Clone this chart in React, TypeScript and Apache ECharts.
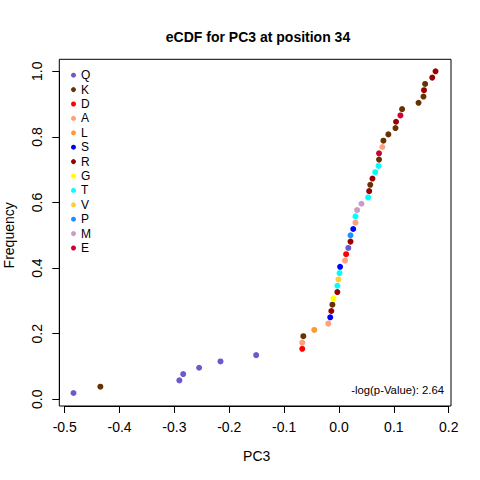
import React, { useEffect, useRef } from "react";
import * as echarts from "echarts";

// Sorted PC3 values (x) and residue of each observation
const pcValues: number[] = [
  -0.484, -0.435, -0.291, -0.284, -0.255, -0.216, -0.151, -0.067, -0.067, -0.065,
  -0.045, -0.0195, -0.016, -0.014, -0.012, -0.01, -0.003, -0.003, -0.001, 0.001,
  0.002, 0.011, 0.013, 0.017, 0.021, 0.021, 0.026, 0.03, 0.03, 0.033,
  0.041, 0.053, 0.055, 0.057, 0.061, 0.066, 0.072, 0.073, 0.073, 0.079,
  0.081, 0.09, 0.103, 0.104, 0.112, 0.115, 0.145, 0.154, 0.155, 0.157,
  0.17, 0.176,
];
const residues: string[] = [
  "Q", "K", "Q", "Q", "Q", "Q", "Q", "D", "A", "K",
  "L", "A", "S", "R", "K", "G", "R", "T", "V", "T",
  "S", "A", "D", "Q", "R", "P", "S", "A", "T", "M",
  "M", "T", "R", "K", "R", "T", "T", "K", "E", "A",
  "K", "K", "K", "R", "E", "K", "K", "K", "R", "K",
  "R", "R",
];
const legendOrder: string[] = ["Q", "K", "D", "A", "L", "S", "R", "G", "T", "V", "P", "M", "E"];
const residueColors: string[] = [
  "#6A5ACD", "#663300", "#FF0000", "#FFA07A", "#FF9933", "#0000FF", "#990000",
  "#FFFF00", "#00FFFF", "#FFCC33", "#1E90FF", "#CC99CC", "#CC0033",
];
const xTicks: number[] = [-0.5, 0.2, 0.1];
const yTicks: number[] = [0, 1, 0.2];
const pValueText = "-log(p-Value): 2.64";

const FONT = "Liberation Sans, Arial, sans-serif";

export default function App() {
  const ref = useRef<HTMLDivElement>(null);
  useEffect(() => {
    document.body.style.margin = "0";
    if (!ref.current) return;
    const chart = echarts.init(ref.current, null, { renderer: "svg" });
    const n = pcValues.length;
    const series = legendOrder.map((res, k) => ({
      name: res,
      type: "scatter",
      symbol: "circle",
      symbolSize: 6,
      itemStyle: { color: residueColors[k], opacity: 1 },
      emphasis: { disabled: true },
      data: pcValues
        .map((x, i) => ({ x, y: (i + 1) / n, r: residues[i] }))
        .filter((d) => d.r === res)
        .map((d) => [d.x, d.y]),
    }));
    chart.setOption({
      animation: false,
      textStyle: { fontFamily: FONT },
      title: {
        text: "eCDF for PC3 at position 34",
        left: 253,
        top: 25,
        textAlign: "center",
        textStyle: { fontFamily: FONT, fontSize: 14, fontWeight: "bold", color: "#000" },
      },
      legend: {
        orient: "vertical",
        left: 66,
        top: 63,
        itemWidth: 5,
        itemHeight: 5,
        itemGap: 0,
        icon: "circle",
        selectedMode: false,
        data: legendOrder,
        textStyle: {
          fontFamily: FONT,
          fontSize: 12,
          lineHeight: 14.4,
          color: "#000",
        },
      },
      grid: {
        left: 64.7,
        right: 31.3,
        top: 71.3,
        bottom: 80.7,
        containLabel: false,
        outerBoundsMode: "none",
      },
      xAxis: {
        type: "value",
        min: xTicks[0],
        max: xTicks[1],
        interval: xTicks[2],
        offset: 6.7,
        name: "PC3",
        nameLocation: "middle",
        nameGap: 43,
        nameTextStyle: { fontFamily: FONT, fontSize: 14, color: "#000" },
        axisLine: { show: true, onZero: false, lineStyle: { color: "#000", width: 1 } },
        axisTick: { show: true, inside: false, length: 7, lineStyle: { color: "#000" } },
        axisLabel: {
          margin: 14,
          fontFamily: FONT,
          fontSize: 14,
          color: "#000",
          formatter: (v: number) => v.toFixed(1),
        },
        splitLine: { show: false },
      },
      yAxis: {
        type: "value",
        min: yTicks[0],
        max: yTicks[1],
        interval: yTicks[2],
        offset: 5.4,
        name: "Frequency",
        nameLocation: "middle",
        nameGap: 43,
        nameTextStyle: { fontFamily: FONT, fontSize: 14, color: "#000" },
        axisLine: { show: true, onZero: false, lineStyle: { color: "#000", width: 1 } },
        axisTick: { show: true, inside: false, length: 7, lineStyle: { color: "#000" } },
        axisLabel: {
          rotate: 90,
          margin: 15,
          fontFamily: FONT,
          fontSize: 14,
          color: "#000",
          formatter: (v: number) => v.toFixed(1),
        },
        splitLine: { show: false },
      },
      graphic: [
        {
          type: "rect",
          shape: { x: 59.3, y: 59.3, width: 391.7, height: 346.7 },
          style: { fill: "none", stroke: "#000", lineWidth: 1 },
          silent: true,
        },
        {
          type: "text",
          x: 444,
          y: 390,
          style: {
            text: pValueText,
            fontFamily: FONT,
            fontSize: 11.3,
            fill: "#000",
            align: "right",
            verticalAlign: "middle",
          },
          silent: true,
        },
      ],
      series,
    });
    return () => chart.dispose();
  }, []);
  return <div ref={ref} style={{ width: 480, height: 480 }} />;
}
